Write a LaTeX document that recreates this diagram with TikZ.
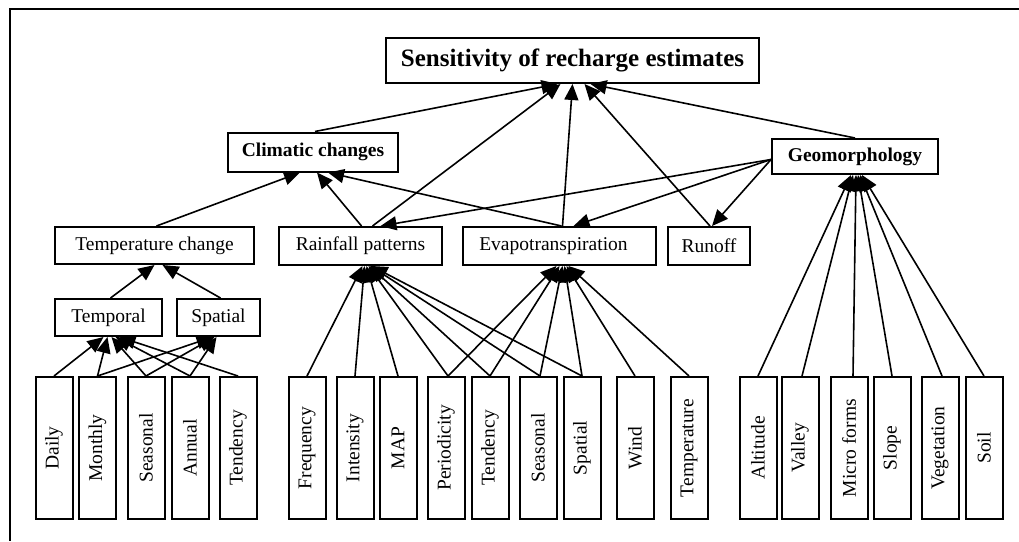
\documentclass[tikz,border=0pt]{standalone}
\usepackage{fontspec}
\setmainfont{Liberation Serif}
\usepackage{graphicx}
\usetikzlibrary{arrows.meta}
\begin{document}
\begin{tikzpicture}[x=1pt,y=-1pt,
  box/.style={draw, line width=2pt, inner sep=0pt, align=center, font=\fontsize{19.5}{23}\selectfont},
  bbox/.style={box, font=\fontsize{19.5}{23}\selectfont\bfseries},
  vbox/.style={draw, line width=2pt, inner sep=0pt, minimum width=37pt, minimum height=142pt, font=\fontsize{19.5}{23}\selectfont},
  arr/.style={line width=1.6pt, -{Triangle[length=16pt,width=14pt]}},
  frame/.style={line width=2.2pt}
]
\useasboundingbox (0,0) rectangle (1019,541);
\coordinate (ftr) at (1019,9);
\coordinate (ftl) at (10,9);
\coordinate (fbl) at (10,541);
\draw[frame] (ftr) -- (ftl) -- (fbl);

% upper levels
\node[box, font=\fontsize{25}{29}\selectfont\bfseries, minimum width=373pt, minimum height=45pt] (sens) at (572.5,60.5) {Sensitivity of recharge estimates};
\node[bbox, minimum width=170pt, minimum height=39pt] (clim) at (313,152) {Climatic changes};
\node[bbox, minimum width=166pt, minimum height=35pt] (geo) at (855,156.5) {Geomorphology};
\node[box, minimum width=199pt, minimum height=37pt] (tc) at (154.5,245.5) {Temperature change};
\node[box, minimum width=163pt, minimum height=38pt] (rain) at (360.5,246) {Rainfall patterns};
\node[box, minimum width=193pt, minimum height=38pt] (evap) at (559.5,246) {Evapotranspiration\hspace{12pt}};
\node[box, minimum width=82pt, minimum height=38pt] (runoff) at (709,246) {Runoff};
\node[box, minimum width=107pt, minimum height=37pt] (temporal) at (108.5,317.5) {Temporal};
\node[box, minimum width=83pt, minimum height=37pt] (spatial) at (218.5,317.5) {Spatial};

% bottom boxes
\node[vbox] (daily) at (54,448) {\rotatebox{90}{Daily}};
\node[vbox] (monthly) at (97.5,448) {\rotatebox{90}{Monthly}};
\node[vbox] (seasA) at (146,448) {\rotatebox{90}{Seasonal}};
\node[vbox] (annual) at (190,448) {\rotatebox{90}{Annual}};
\node[vbox] (tendA) at (238,448) {\rotatebox{90}{Tendency}};
\node[vbox] (freq) at (307,448) {\rotatebox{90}{Frequency}};
\node[vbox] (inten) at (355,448) {\rotatebox{90}{Intensity}};
\node[vbox] (map) at (398,448) {\rotatebox{90}{MAP}};
\node[vbox] (period) at (446,448) {\rotatebox{90}{Periodicity}};
\node[vbox] (tendB) at (490,448) {\rotatebox{90}{Tendency}};
\node[vbox] (seasB) at (538,448) {\rotatebox{90}{Seasonal}};
\node[vbox] (spatB) at (582,448) {\rotatebox{90}{Spatial}};
\node[vbox] (wind) at (635,448) {\rotatebox{90}{Wind}};
\node[vbox] (temp) at (689,448) {\rotatebox{90}{Temperature}};
\node[vbox] (alt) at (758,448) {\rotatebox{90}{Altitude}};
\node[vbox] (valley) at (800,448) {\rotatebox{90}{Valley}};
\node[vbox] (micro) at (849,448) {\rotatebox{90}{Micro forms}};
\node[vbox] (slope) at (892,448) {\rotatebox{90}{Slope}};
\node[vbox] (veg) at (940,448) {\rotatebox{90}{Vegetation}};
\node[vbox] (soil) at (984,448) {\rotatebox{90}{Soil}};

% temperature group
\draw[arr] (daily.north) -- ([xshift=-5pt]temporal.south);
\draw[arr] (monthly.north) -- ([xshift=-1pt]temporal.south);
\draw[arr] (monthly.north) -- ([xshift=-6pt]spatial.south);
\draw[arr] (seasA.north) -- ([xshift=3pt]temporal.south);
\draw[arr] (seasA.north) -- ([xshift=-4pt]spatial.south);
\draw[arr] (annual.north) -- ([xshift=7pt]temporal.south);
\draw[arr] (annual.north) -- ([xshift=-2pt]spatial.south);
\draw[arr] (tendA.north) -- ([xshift=11pt]temporal.south);
\draw[arr] ([xshift=2pt]temporal.north) -- (tc.south);
\draw[arr] ([xshift=2pt]spatial.north) -- ([xshift=8pt]tc.south);

% rainfall children
\draw[arr] (freq.north) -- ([xshift=2pt]rain.south);
\draw[arr] (inten.north) -- ([xshift=4pt]rain.south);
\draw[arr] (map.north) -- ([xshift=6pt]rain.south);
\draw[arr] ([xshift=2pt]period.north) -- ([xshift=8pt]rain.south);
\draw[arr] (tendB.north) -- ([xshift=9pt]rain.south);
\draw[arr] ([xshift=2pt]seasB.north) -- ([xshift=10pt]rain.south);
\draw[arr] (spatB.north) -- ([xshift=11pt]rain.south);

% evapotranspiration children
\draw[arr] ([xshift=2pt]period.north) -- ([xshift=-3pt]evap.south);
\draw[arr] (tendB.north) -- ([xshift=0pt]evap.south);
\draw[arr] ([xshift=2pt]seasB.north) -- ([xshift=3pt]evap.south);
\draw[arr] (spatB.north) -- ([xshift=5pt]evap.south);
\draw[arr] (wind.north) -- ([xshift=7pt]evap.south);
\draw[arr] (temp.north) -- ([xshift=9pt]evap.south);

% geomorphology children
\draw[arr] (alt.north) -- ([xshift=-4pt]geo.south);
\draw[arr] ([xshift=2pt]valley.north) -- ([xshift=-2pt]geo.south);
\draw[arr] ([xshift=4pt]micro.north) -- ([xshift=1pt]geo.south);
\draw[arr] (slope.north) -- ([xshift=3pt]geo.south);
\draw[arr] ([xshift=2pt]veg.north) -- ([xshift=5pt]geo.south);
\draw[arr] (soil.north) -- ([xshift=7pt]geo.south);

% to climatic changes
\draw[arr] ([xshift=2pt]tc.north) -- ([xshift=-13pt]clim.south);
\draw[arr] ([xshift=1pt]rain.north) -- ([xshift=4pt]clim.south);
\draw[arr] ([xshift=2pt]evap.north) -- ([xshift=15pt]clim.south);

% to sensitivity
\draw[arr] ([xshift=2pt]clim.north) -- ([xshift=-15pt]sens.south);
\draw[arr] ([xshift=12pt]rain.north) -- ([xshift=-12pt]sens.south);
\draw[arr] ([xshift=3pt]evap.north) -- ([xshift=0pt]sens.south);
\draw[arr] ([xshift=1pt]runoff.north) -- ([xshift=12pt]sens.south);
\draw[arr] (geo.north) -- ([xshift=18pt]sens.south);

% geomorphology to others
\draw[arr] ([yshift=-3pt]geo.west) -- ([xshift=20pt]rain.north);
\draw[arr] ([yshift=-3pt]geo.west) -- ([xshift=14pt]evap.north);
\draw[arr] ([yshift=-3pt]geo.west) -- ([xshift=3pt]runoff.north);
\end{tikzpicture}
\end{document}
